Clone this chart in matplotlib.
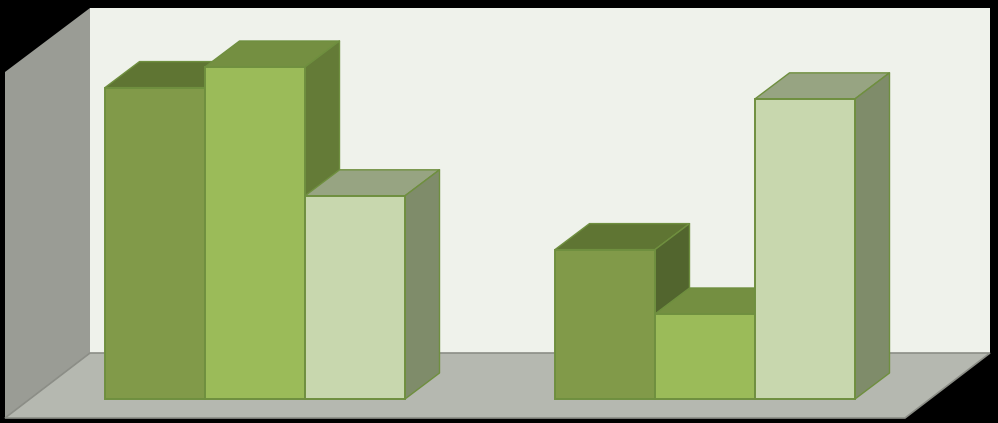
import matplotlib.pyplot as plt
from matplotlib.patches import Polygon


# values on a 0-100 scale, tallest bar = 100
group_starts = [1.05, 5.55]
series_a = [93.8, 45.0]
series_b = [100.0, 25.6]
series_c = [61.2, 90.4]

front_colors = ["#819A49", "#9BBB59", "#C8D7AE"]
top_colors = ["#5F7533", "#748F41", "#97A482"]
side_colors = ["#52652E", "#647B37", "#7F8C6A"]
edge_color = "#6F8F3F"

PX_PER_VALUE = 3.32
DEPTH_X = 0.345
DEPTH_Y = 26 / PX_PER_VALUE
BAR_WIDTH = 1.0

FLOOR_LEFT = 0.05
FLOOR_RIGHT = 9.05
FLOOR_FRONT = -19 / PX_PER_VALUE
FLOOR_BACK = 46 / PX_PER_VALUE
WALL_TOP = 391 / PX_PER_VALUE
WALL_X = 0.90
WALL_RIGHT = 9.90


def draw_room(ax):
    # left wall
    ax.add_patch(Polygon(
        [
            (FLOOR_LEFT, FLOOR_FRONT),
            (FLOOR_LEFT, WALL_TOP - 64 / PX_PER_VALUE),
            (WALL_X, WALL_TOP),
            (WALL_X, FLOOR_BACK),
        ],
        facecolor="#9A9C95",
        edgecolor="none",
        zorder=1
    ))

    # back wall
    ax.add_patch(Polygon(
        [
            (WALL_X, FLOOR_BACK),
            (WALL_X, WALL_TOP),
            (WALL_RIGHT, WALL_TOP),
            (WALL_RIGHT, FLOOR_BACK),
        ],
        facecolor="#EFF2EB",
        edgecolor="none",
        zorder=1
    ))

    # floor
    ax.add_patch(Polygon(
        [
            (FLOOR_LEFT, FLOOR_FRONT),
            (WALL_X, FLOOR_BACK),
            (WALL_RIGHT, FLOOR_BACK),
            (FLOOR_RIGHT, FLOOR_FRONT),
        ],
        facecolor="#B5B8B0",
        edgecolor="#8C8E87",
        linewidth=1.2,
        zorder=2
    ))


def draw_bar(ax, x, value, color_idx, order):
    ax.bar(
        x,
        value,
        width=BAR_WIDTH,
        align="edge",
        color=front_colors[color_idx],
        edgecolor=edge_color,
        linewidth=1.4,
        zorder=order + 1
    )

    right = x + BAR_WIDTH

    ax.add_patch(Polygon(
        [
            (x, value),
            (right, value),
            (right + DEPTH_X, value + DEPTH_Y),
            (x + DEPTH_X, value + DEPTH_Y),
        ],
        facecolor=top_colors[color_idx],
        edgecolor=edge_color,
        linewidth=1.0,
        joinstyle="round",
        zorder=order
    ))

    ax.add_patch(Polygon(
        [
            (right, 0),
            (right, value),
            (right + DEPTH_X, value + DEPTH_Y),
            (right + DEPTH_X, DEPTH_Y),
        ],
        facecolor=side_colors[color_idx],
        edgecolor=edge_color,
        linewidth=1.0,
        joinstyle="round",
        zorder=order
    ))


def main():
    fig = plt.figure(figsize=(9.98, 4.23), dpi=100, facecolor="black")
    ax = fig.add_axes([0, 0, 1, 1])
    ax.set_xlim(0, 9.98)
    ax.set_ylim(-24 / PX_PER_VALUE, 399 / PX_PER_VALUE)
    ax.axis("off")

    draw_room(ax)

    order = 3
    for g, start in enumerate(group_starts):
        values = [series_a[g], series_b[g], series_c[g]]
        for i, value in enumerate(values):
            draw_bar(ax, start + i * BAR_WIDTH, value, i, order)
            order += 2

    fig.savefig("out.png", dpi=100, facecolor="black")
    plt.close(fig)


if __name__ == "__main__":
    main()
